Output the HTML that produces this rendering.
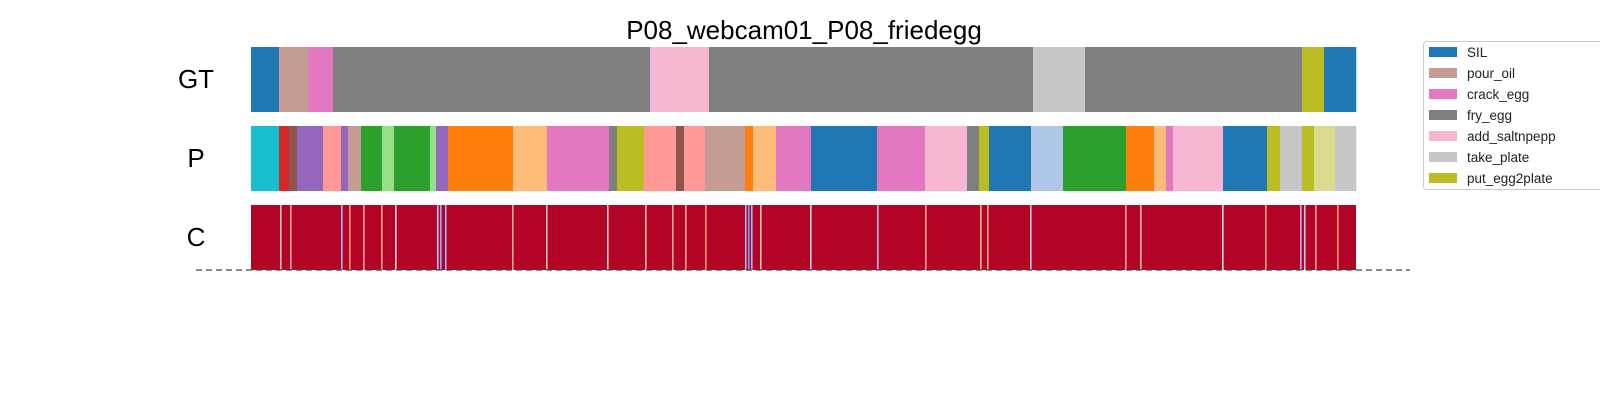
<!DOCTYPE html>
<html><head><meta charset="utf-8">
<style>
body{margin:0;background:#fff;width:1600px;height:400px;overflow:hidden;font-family:"Liberation Sans","DejaVu Sans",sans-serif;}
</style></head>
<body>
<svg id="chart" width="1600" height="400" xmlns="http://www.w3.org/2000/svg">
<text x="804" y="39" font-size="26" text-anchor="middle" fill="#000">P08_webcam01_P08_friedegg</text>
<text x="196" y="88" font-size="26" text-anchor="middle">GT</text>
<text x="196" y="167" font-size="26" text-anchor="middle">P</text>
<text x="196" y="246" font-size="26" text-anchor="middle">C</text>
<g id="gt"></g>
<g id="p"></g>
<g id="c"></g>
<line x1="196" y1="270" x2="1410" y2="270" stroke="#444" stroke-width="1.3" stroke-dasharray="6,4"/>
<g>
<rect x="1423.5" y="41.5" width="190" height="148" rx="3" fill="#fff" stroke="#ccc"/>
<g id="legend"></g>
</g>
</svg>
<script>
const totalFrames = 1105;
const gtStarts = [0,28,57,82,399,458,782,834,1051,1073];
const gtLabels = ['#1f77b4','#c49c94','#e377c2','#7f7f7f','#f7b6d2','#7f7f7f','#c7c7c7','#7f7f7f','#bcbd22','#1f77b4'];
const pStarts = [0,28,38,46,72,90,97,110,131,143,179,185,197,262,296,358,366,393,425,433,454,494,502,525,560,626,674,716,728,738,780,812,875,903,915,922,972,1016,1029,1051,1063,1084];
const pLabels = ['#17becf','#d62728','#8c564b','#9467bd','#ff9896','#9467bd','#c49c94','#2ca02c','#98df8a','#2ca02c','#98df8a','#9467bd','#ff7f0e','#ffbb78','#e377c2','#7f7f7f','#bcbd22','#ff9896','#8c564b','#ff9896','#c49c94','#ff7f0e','#ffbb78','#e377c2','#1f77b4','#e377c2','#f7b6d2','#7f7f7f','#bcbd22','#1f77b4','#aec7e8','#2ca02c','#ff7f0e','#ffbb78','#e377c2','#f7b6d2','#1f77b4','#bcbd22','#c7c7c7','#bcbd22','#dbdb8d','#c7c7c7'];
const cFrames = [29,39,90,98,112,130,144,186,189,194,261,295,356,394,421,434,454,494,497,500,509,559,626,674,729,736,779,874,889,971,1014,1049,1053,1064,1086];
const cValues = [0.6,0.7,0.3,0.75,0.7,0.7,0.5,0.35,0.25,0.3,0.7,0.6,0.45,0.6,0.7,0.7,0.75,0.3,0.2,0.3,0.6,0.45,0.35,0.7,0.65,0.7,0.4,0.7,0.65,0.5,0.7,0.3,0.4,0.7,0.75];
const legendNames = ['SIL','pour_oil','crack_egg','fry_egg','add_saltnpepp','take_plate','put_egg2plate'];
const legendColors = ['#1f77b4','#c49c94','#e377c2','#7f7f7f','#f7b6d2','#c7c7c7','#bcbd22'];

const X0 = 251, X1 = 1356;
const xs = f => X0 + (X1 - X0) * f / totalFrames;
const NS = 'http://www.w3.org/2000/svg';
function mk(tag, attrs, parent){const e=document.createElementNS(NS,tag);for(const k in attrs)e.setAttribute(k,attrs[k]);parent.appendChild(e);return e;}
function drawRow(gid, starts, cols, y, h){
  const g=document.getElementById(gid);
  starts.forEach((s,i)=>{
    const e = i+1<starts.length?starts[i+1]:totalFrames;
    const r=mk('rect',{x:xs(s),y:y,width:xs(e)-xs(s)+0.3,height:h,fill:cols[i]},g);
    
    
  });
}
drawRow('gt', gtStarts, gtLabels, 47, 65);
drawRow('p', pStarts, pLabels, 126, 65);
// confidence row
const cg=document.getElementById('c');
const base=mk('rect',{x:X0,y:205,width:X1-X0,height:65,fill:'#b40426'},cg);


function cw(v){ // coolwarm approx
  const stops=[[0,[59,76,192]],[0.25,[141,176,254]],[0.5,[221,221,221]],[0.75,[244,154,123]],[1,[180,4,38]]];
  for(let i=0;i<stops.length-1;i++){const [a,ca]=stops[i],[b,cb]=stops[i+1];
    if(v<=b){const t=(v-a)/(b-a);return 'rgb('+ca.map((c,j)=>Math.round(c+(cb[j]-c)*t)).join(',')+')';}}
  return 'rgb(180,4,38)';
}
cFrames.forEach((f,i)=>{
  const r=mk('rect',{x:xs(f),y:205,width:1.6,height:65,fill:cw(cValues[i])},cg);
  
  
});
const lg=document.getElementById('legend');
legendNames.forEach((n,i)=>{
  const y=47+i*21;
  const r=mk('rect',{x:1429,y:y,width:28,height:10,fill:legendColors[i]},lg);
  
  
  const t=mk('text',{x:1467,y:y+10,'font-size':13.5,fill:'#222'},lg);
  t.textContent=n;
  
  
});
</script>
</body></html>
